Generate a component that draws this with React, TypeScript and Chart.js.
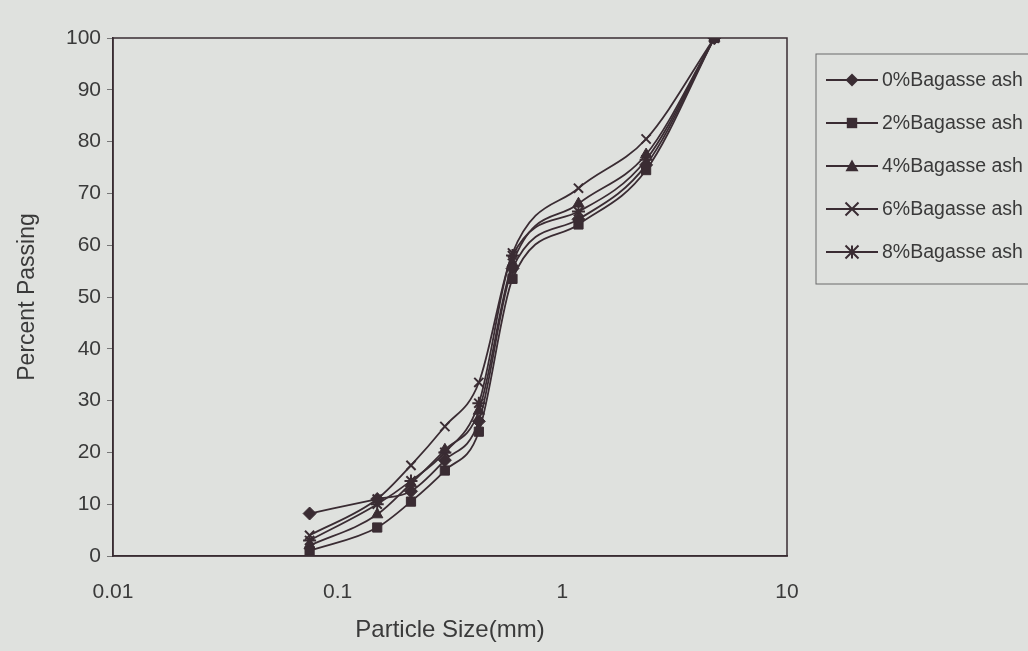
import React, { useEffect, useRef } from "react";
import { Chart, registerables } from "chart.js";

Chart.register(...registerables);

const sizes = [0.075, 0.15, 0.212, 0.3, 0.425, 0.6, 1.18, 2.36, 4.75];
const ash0 = [8.2, 11, 12.5, 18.5, 26, 55.5, 65, 75.5, 100];
const ash2 = [1, 5.5, 10.5, 16.5, 24, 53.5, 64, 74.5, 100];
const ash4 = [2, 8, 14, 20.5, 28, 56.5, 68, 77.5, 100];
const ash6 = [4, 11, 17.5, 25, 33.5, 58.5, 71, 80.5, 100];
const ash8 = [3, 10, 14.5, 20, 29.5, 58, 66.5, 76.5, 100];
const seriesNames = ["0%Bagasse ash", "2%Bagasse ash", "4%Bagasse ash", "6%Bagasse ash", "8%Bagasse ash"];
const seriesStyles = ["rectRot", "rect", "triangle", "crossRot", "star"];
const xTicks = [0.01, 0.1, 1, 10];

const INK = "#3a2c33";
const TEXT = "#3a3a3a";
const FONT = "'Liberation Sans', Arial, sans-serif";

function drawMarker(ctx: CanvasRenderingContext2D, style: string, x: number, y: number, r: number) {
  ctx.save();
  ctx.fillStyle = INK;
  ctx.strokeStyle = INK;
  ctx.lineWidth = 2;
  ctx.beginPath();
  if (style === "rectRot") {
    ctx.moveTo(x, y - r); ctx.lineTo(x + r, y); ctx.lineTo(x, y + r); ctx.lineTo(x - r, y); ctx.closePath(); ctx.fill();
  } else if (style === "rect") {
    ctx.rect(x - r * 0.8, y - r * 0.8, r * 1.6, r * 1.6); ctx.fill();
  } else if (style === "triangle") {
    ctx.moveTo(x, y - r); ctx.lineTo(x + r, y + r * 0.8); ctx.lineTo(x - r, y + r * 0.8); ctx.closePath(); ctx.fill();
  } else if (style === "crossRot") {
    ctx.moveTo(x - r, y - r); ctx.lineTo(x + r, y + r); ctx.moveTo(x + r, y - r); ctx.lineTo(x - r, y + r); ctx.stroke();
  } else {
    ctx.moveTo(x - r, y - r); ctx.lineTo(x + r, y + r); ctx.moveTo(x + r, y - r); ctx.lineTo(x - r, y + r);
    ctx.moveTo(x, y - r); ctx.lineTo(x, y + r); ctx.moveTo(x - r, y); ctx.lineTo(x + r, y); ctx.stroke();
  }
  ctx.restore();
}

const framePlugin = {
  id: "frameAndLegend",
  afterDraw(chart: any) {
    const ctx: CanvasRenderingContext2D = chart.ctx;
    const a = chart.chartArea;
    ctx.save();
    ctx.strokeStyle = INK;
    ctx.lineWidth = 1.5;
    ctx.strokeRect(a.left, a.top, a.right - a.left, a.bottom - a.top);
    // legend box
    const lx = 816, ly = 54, lw = 230, lh = 230;
    ctx.strokeStyle = "#6a6a6a";
    ctx.lineWidth = 1;
    ctx.strokeRect(lx, ly, lw, lh);
    ctx.font = `19.5px ${FONT}`;
    ctx.textBaseline = "middle";
    ctx.fillStyle = TEXT;
    for (let i = 0; i < seriesNames.length; i++) {
      const y = 80 + i * 43;
      ctx.strokeStyle = INK;
      ctx.lineWidth = 1.8;
      ctx.beginPath();
      ctx.moveTo(826, y);
      ctx.lineTo(878, y);
      ctx.stroke();
      drawMarker(ctx, seriesStyles[i], 852, y, 6.5);
      ctx.fillStyle = TEXT;
      ctx.fillText(seriesNames[i], 882, y + 1);
    }
    ctx.restore();
  },
};

export default function App() {
  const ref = useRef<HTMLCanvasElement | null>(null);
  useEffect(() => {
    if (!ref.current) return;
    const all = [ash0, ash2, ash4, ash6, ash8];
    const chart = new Chart(ref.current, {
      type: "line",
      data: {
        datasets: all.map((vals, i) => ({
          label: seriesNames[i],
          data: sizes.map((s, j) => ({ x: s, y: vals[j] })),
          borderColor: INK,
          backgroundColor: INK,
          borderWidth: 1.8,
          pointStyle: seriesStyles[i] as any,
          pointRadius: 6.5,
          pointBorderWidth: seriesStyles[i] === "crossRot" || seriesStyles[i] === "star" ? 2 : 1,
          pointBorderColor: INK,
          pointBackgroundColor: INK,
          cubicInterpolationMode: "monotone" as const,
          fill: false,
        })),
      },
      options: {
        animation: false,
        responsive: false,
        maintainAspectRatio: false,
        layout: { padding: { top: 38, right: 241, left: 0, bottom: 0 } },
        plugins: { legend: { display: false }, tooltip: { enabled: false } },
        scales: {
          x: {
            type: "logarithmic",
            min: 0.01,
            max: 10,
            afterBuildTicks: (axis: any) => {
              axis.ticks = xTicks.map((v) => ({ value: v }));
            },
            afterFit: (axis: any) => {
              axis.height = 95;
            },
            ticks: {
              color: TEXT,
              font: { family: FONT, size: 21 },
              padding: 24,
              maxRotation: 0,
              autoSkip: false,
              callback: (v: any) => String(v),
            },
            grid: { display: false, drawTicks: false },
            border: { display: true, color: INK, width: 1.5 },
            title: {
              display: true,
              text: "Particle Size(mm)",
              color: TEXT,
              font: { family: FONT, size: 24 },
              padding: { top: 4, bottom: 6 },
            },
          },
          y: {
            type: "linear",
            min: 0,
            max: 100,
            afterFit: (axis: any) => {
              axis.width = 113;
            },
            ticks: {
              stepSize: 10,
              color: TEXT,
              font: { family: FONT, size: 21 },
              padding: 6,
            },
            grid: { display: true, drawOnChartArea: false, drawTicks: true, tickLength: 6, color: "#777" },
            border: { display: true, color: INK, width: 1.5 },
            title: {
              display: true,
              text: "Percent Passing",
              color: TEXT,
              font: { family: FONT, size: 23 },
              padding: { top: 14, bottom: 4 },
            },
          },
        },
      },
      plugins: [framePlugin],
    });
    return () => chart.destroy();
  }, []);
  return (
    <div style={{ position: "fixed", left: 0, top: 0, width: 1028, height: 651, background: "#dfe1de" }}>
      <canvas ref={ref} width={1028} height={651} style={{ width: 1028, height: 651, display: "block" }} />
    </div>
  );
}
